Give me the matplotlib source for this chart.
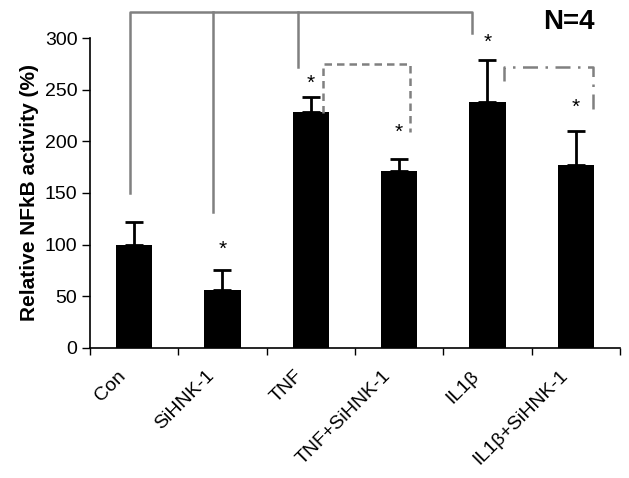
import numpy as np
import matplotlib.pyplot as plt
from matplotlib.transforms import ScaledTranslation

plt.rcParams['font.family'] = ['Liberation Sans', 'DejaVu Sans']

# data
labels = ['Con', 'SiHNK-1', 'TNF', 'TNF+SiHNK-1', 'IL1\u03b2', 'IL1\u03b2+SiHNK-1']
means = [100, 56, 228, 171, 238, 177]
err_up = [22, 19, 15, 12, 41, 33]
stars = [None, 95, 256, 209, 296, 233]

fig = plt.figure(figsize=(6.29, 4.78), dpi=100)
ax = fig.add_axes([0.143, 0.272, 0.8426, 0.6485])

x = np.arange(len(labels))
ax.bar(x, means, width=0.41, color='black', zorder=2)
ax.errorbar(x, means, yerr=[np.zeros(len(x)), err_up], fmt='none',
            ecolor='black', elinewidth=2, capsize=6.5, capthick=2, zorder=3)

for xi, s in zip(x, stars):
    if s is not None:
        ax.text(xi, s, '*', ha='center', va='center', fontsize=15)

# significance brackets
gray = '#808080'
ax.plot([-0.05, -0.05, 3.82, 3.82], [150, 325, 325, 305], color=gray, lw=1.8, clip_on=False)
ax.plot([0.89, 0.89], [132, 325], color=gray, lw=1.8, clip_on=False)
ax.plot([1.86, 1.86], [272, 325], color=gray, lw=1.8, clip_on=False)
ax.plot([2.14, 2.14, 3.12, 3.12], [227, 275, 275, 209], color=gray, lw=1.8,
        ls=(0, (3, 2)), clip_on=False)
ax.plot([4.19, 4.19, 5.19, 5.19], [258, 272, 272, 225], color=gray, lw=1.8,
        ls=(0, (6, 3, 1, 3)), clip_on=False)

fig.text(0.905, 0.954, 'N=4', fontsize=20, fontweight='bold', ha='center', va='center')

ax.set_xlim(-0.5, 5.5)
ax.set_ylim(0, 300)
ax.set_yticks([0, 50, 100, 150, 200, 250, 300])
ax.tick_params(axis='y', labelsize=14, length=6, width=1, direction='out', pad=3)
ax.set_xticks(x)
ax.set_xticklabels(labels, rotation=45, ha='right', va='top',
                   rotation_mode='anchor', fontsize=14)
ax.tick_params(axis='x', which='major', length=0, pad=14)
shift = ScaledTranslation(-12 / 72, 0, fig.dpi_scale_trans)
for lbl in ax.get_xticklabels():
    lbl.set_transform(lbl.get_transform() + shift)
ax.set_xticks(np.arange(-0.5, 6, 1), minor=True)
ax.tick_params(axis='x', which='minor', length=5, width=1, direction='out')
ax.set_ylabel('Relative NFkB activity (%)', fontsize=15, fontweight='bold', labelpad=4)

for side in ['top', 'right']:
    ax.spines[side].set_visible(False)
for side in ['left', 'bottom']:
    ax.spines[side].set_linewidth(1.2)

fig.savefig('out.png', dpi=100)
